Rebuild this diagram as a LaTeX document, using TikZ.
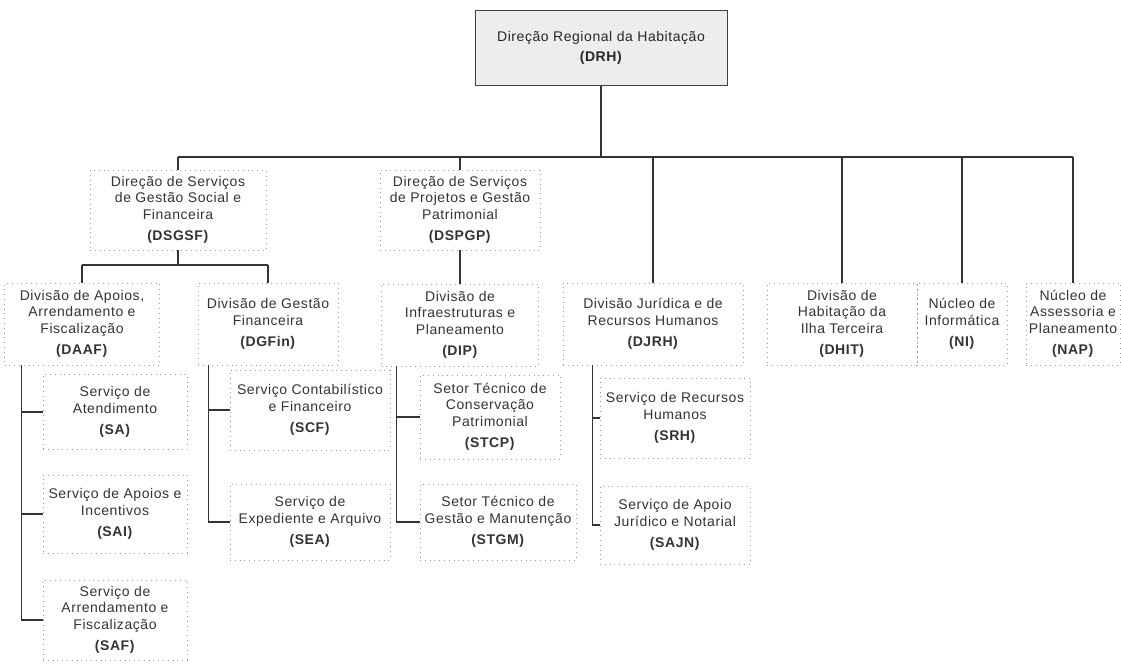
\documentclass[tikz,border=0pt]{standalone}
\usepackage{fontspec}
\setmainfont{Liberation Sans}[LetterSpace=4]

\begin{document}
\begin{tikzpicture}[x=1pt,y=1pt]
	\tikzstyle{every node}+=[inner sep=2pt, align=center, text=black!80, font=\fontsize{14}{16.5}\selectfont]
	\tikzstyle{unitbox}=[draw=black!40, dash pattern=on 0.8pt off 4pt]
	\tikzstyle{orgline}=[draw=black!80, line width=1.2pt]
	\useasboundingbox (0,0) rectangle (1121,-664);
	\node [draw=black!75, fill=black!7, line width=0.8pt, minimum width=252, minimum height=75, text=black!85, font=\fontsize{14}{20}\selectfont] (DRH) at (601,-48) {Direção Regional da Habitação\\\textbf{(DRH)}};
	\node [unitbox, minimum width=176, minimum height=80] (DSGSF) at (178,-210) {Direção de Serviços\\de Gestão Social e\\Financeira\\[5pt]\textbf{(DSGSF)}};
	\node [unitbox, minimum width=160, minimum height=80] (DSPGP) at (460,-210) {Direção de Serviços\\de Projetos e Gestão\\Patrimonial\\[5pt]\textbf{(DSPGP)}};
	\node [unitbox, minimum width=155, minimum height=82] (DAAF) at (82,-324) {Divisão de Apoios,\\Arrendamento e\\Fiscalização\\[5pt]\textbf{(DAAF)}};
	\node [unitbox, minimum width=140, minimum height=82] (DGFin) at (268,-324) {Divisão de Gestão\\Financeira\\[5pt]\textbf{(DGFin)}};
	\node [unitbox, minimum width=157, minimum height=82] (DIP) at (460,-325) {Divisão de\\Infraestruturas e\\Planeamento\\[5pt]\textbf{(DIP)}};
	\node [unitbox, minimum width=180, minimum height=82] (DJRH) at (653,-324) {Divisão Jurídica e de\\Recursos Humanos\\[5pt]\textbf{(DJRH)}};
	\node [unitbox, minimum width=150, minimum height=82] (DHIT) at (842,-324) {Divisão de\\Habitação da\\Ilha Terceira\\[5pt]\textbf{(DHIT)}};
	\node [unitbox, minimum width=90, minimum height=82] (NI) at (962,-324) {Núcleo de\\Informática\\[5pt]\textbf{(NI)}};
	\node [unitbox, minimum width=94, minimum height=82] (NAP) at (1073,-324) {Núcleo de\\Assessoria e\\Planeamento\\[5pt]\textbf{(NAP)}};
	\node [unitbox, minimum width=144, minimum height=75] (SA) at (115,-412) {Serviço de\\Atendimento\\[5pt]\textbf{(SA)}};
	\node [unitbox, minimum width=144, minimum height=78] (SAI) at (115,-514) {Serviço de Apoios e\\Incentivos\\[5pt]\textbf{(SAI)}};
	\node [unitbox, minimum width=144, minimum height=80] (SAF) at (115,-620) {Serviço de\\Arrendamento e\\Fiscalização\\[5pt]\textbf{(SAF)}};
	\node [unitbox, minimum width=160, minimum height=80] (SCF) at (310,-410) {Serviço Contabilístico\\e Financeiro\\[5pt]\textbf{(SCF)}};
	\node [unitbox, minimum width=160, minimum height=76] (SEA) at (310,-522) {Serviço de\\Expediente e Arquivo\\[5pt]\textbf{(SEA)}};
	\node [unitbox, minimum width=140, minimum height=84] (STCP) at (490,-417) {Setor Técnico de\\Conservação\\Patrimonial\\[5pt]\textbf{(STCP)}};
	\node [unitbox, minimum width=156, minimum height=76] (STGM) at (498,-522) {Setor Técnico de\\Gestão e Manutenção\\[5pt]\textbf{(STGM)}};
	\node [unitbox, minimum width=150, minimum height=80] (SRH) at (675,-418) {Serviço de Recursos\\Humanos\\[5pt]\textbf{(SRH)}};
	\node [unitbox, minimum width=150, minimum height=78] (SAJN) at (675,-525) {Serviço de Apoio\\Jurídico e Notarial\\[5pt]\textbf{(SAJN)}};
	\coordinate (bus) at (0,-157);
	\coordinate (subbus) at (0,-265);
	\coordinate (daafbar) at ([xshift=17pt]DAAF.south west);
	\coordinate (dgfbar) at ([xshift=11pt]DGFin.south west);
	\coordinate (dipbar) at ([xshift=15.5pt]DIP.south west);
	\coordinate (djrhbar) at ([xshift=30pt]DJRH.south west);
	\draw [orgline] (DRH.south) -- (DRH.south |- bus);
	\draw [orgline] (DSGSF.north |- bus) -- (NAP.north |- bus);
	\foreach \unit in {DSGSF,DSPGP,DJRH,DHIT,NI,NAP}
		\draw [orgline] (\unit.north |- bus) -- (\unit.north);
	\draw [orgline] (DSGSF.south) -- (DSGSF.south |- subbus);
	\draw [orgline] (DAAF.north |- subbus) -- (DGFin.north |- subbus);
	\draw [orgline] (DAAF.north |- subbus) -- (DAAF.north);
	\draw [orgline] (DGFin.north |- subbus) -- (DGFin.north);
	\draw [orgline] (DSPGP.south) -- (DIP.north);
	\draw [orgline] (daafbar) |- (SAF.west);
	\draw [orgline] (daafbar |- SA.west) -- (SA.west);
	\draw [orgline] (daafbar |- SAI.west) -- (SAI.west);
	\draw [orgline] (dgfbar) |- (SEA.west);
	\draw [orgline] (dgfbar |- SCF.west) -- (SCF.west);
	\draw [orgline] (dipbar) |- (STGM.west);
	\draw [orgline] (dipbar |- STCP.west) -- (STCP.west);
	\draw [orgline] (djrhbar) |- (SAJN.west);
	\draw [orgline] (djrhbar |- SRH.west) -- (SRH.west);
\end{tikzpicture}
\end{document}
